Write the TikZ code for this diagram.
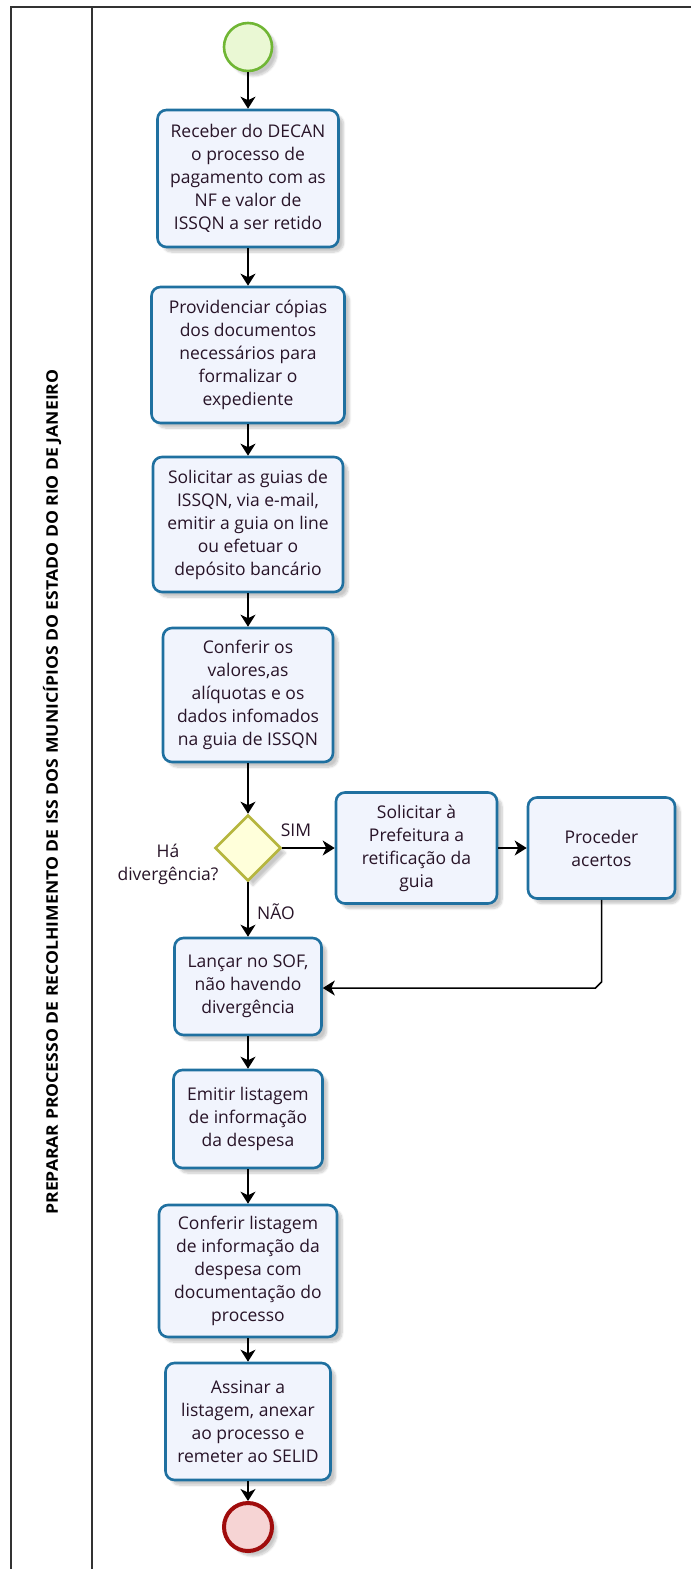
\documentclass[tikz,border=0pt]{standalone}
\usepackage{fontspec}
\setmainfont{Open Sans}
\usetikzlibrary{shapes.geometric,arrows.meta,shadows.blur}
\definecolor{taskline}{RGB}{31,112,160}
\definecolor{taskfill}{RGB}{241,244,253}
\definecolor{txt}{RGB}{40,20,40}
\definecolor{startline}{RGB}{112,182,52}
\definecolor{startfill}{RGB}{234,248,212}
\definecolor{endline}{RGB}{160,12,12}
\definecolor{endfill}{RGB}{246,212,212}
\definecolor{gwline}{RGB}{182,182,62}
\definecolor{gwfill}{RGB}{255,255,218}
\definecolor{frame}{RGB}{50,50,50}
\newcommand\tasktext{\fontsize{17.5bp}{23bp}\selectfont}
\newcommand\titletext{\fontsize{16bp}{18bp}\selectfont\bfseries}
\tikzset{
  shd/.style={blur shadow={shadow xshift=5bp,shadow yshift=-5bp,shadow blur steps=8,shadow opacity=22}},
  task/.style={rectangle,rounded corners=9bp,draw=taskline,line width=2.6bp,fill=taskfill,
    align=center,inner sep=0pt,font=\tasktext,text=txt,shd},
  startev/.style={circle,draw=startline,line width=2.6bp,fill=startfill,minimum size=48bp,inner sep=0pt,shd},
  endev/.style={circle,draw=endline,line width=4bp,fill=endfill,minimum size=48bp,inner sep=0pt,shd},
  gw/.style={diamond,aspect=1,draw=gwline,line width=2.6bp,fill=gwfill,minimum size=66bp,inner sep=0pt,shd},
  arr/.style={draw=black,line width=1.5bp,-{Stealth[length=12bp,width=15bp,inset=3.5bp]}},
  lbl/.style={font=\tasktext,text=txt,inner sep=0pt},
  frameline/.style={draw=frame,line width=1.5bp},
}
\begin{document}
\begin{tikzpicture}[x=1bp,y=-1bp]
\useasboundingbox (0,0) rectangle (691,1569);
% pool / lane frame
\draw[frameline] (11,1580) -- (11,7) -- (700,7);
\draw[frameline] (92,7) -- (92,1580);
\node[rotate=90,font=\titletext,inner sep=0pt] (title) at (52,792)
  {\resizebox{845bp}{\height}{PREPARAR PROCESSO DE RECOLHIMENTO DE ISS DOS MUNICÍPIOS DO ESTADO DO RIO DE JANEIRO}};
% events and tasks
\node[startev] (start) at (248,47) {};
\node[task,minimum width=181bp,minimum height=137bp] (t1) at (248,178.5)
  {Receber do DECAN\\o processo de\\pagamento com as\\NF e valor de\\ISSQN a ser retido};
\node[task,minimum width=193bp,minimum height=136bp] (t2) at (248,355)
  {Providenciar cópias\\dos documentos\\necessários para\\formalizar o\\expediente};
\node[task,minimum width=190bp,minimum height=135bp] (t3) at (248,524.5)
  {Solicitar as guias de\\ISSQN, via e-mail,\\emitir a guia on line\\ou efetuar o\\depósito bancário};
\node[task,minimum width=170bp,minimum height=134bp] (t4) at (248,695)
  {Conferir os\\valores,as\\alíquotas e os\\dados infomados\\na guia de ISSQN};
\node[gw] (gw) at (248,848) {};
\node[task,minimum width=161bp,minimum height=111bp] (t5) at (416.5,848)
  {Solicitar à\\Prefeitura a\\retificação da\\guia};
\node[task,minimum width=147bp,minimum height=101bp] (t6) at (601.5,848)
  {Proceder\\acertos};
\node[task,minimum width=147bp,minimum height=97bp] (t7) at (248,986.5)
  {Lançar no SOF,\\não havendo\\divergência};
\node[task,minimum width=149bp,minimum height=98bp] (t8) at (248,1119)
  {Emitir listagem\\de informação\\da despesa};
\node[task,minimum width=178bp,minimum height=132bp] (t9) at (248,1271)
  {Conferir listagem\\de informação da\\despesa com\\documentação do\\processo};
\node[task,minimum width=165bp,minimum height=117bp] (t10) at (248,1421.5)
  {Assinar a\\listagem, anexar\\ao processo e\\remeter ao SELID};
\node[endev] (end) at (248,1527) {};
% labels
\node[lbl] (sim) at (296,830) {SIM};
\node[lbl] (nao) at (276,912) {NÃO};
\node[lbl,align=center] (q) at (168,864) {Há\\divergência?};
% connectors
\draw[arr] (start) -- (t1);
\draw[arr] (t1) -- (t2);
\draw[arr] (t2) -- (t3);
\draw[arr] (t3) -- (t4);
\draw[arr] (t4) -- (gw);
\draw[arr] (gw.east) -- (t5.west);
\draw[arr] (t5) -- (t6);
\draw[arr] (gw.south) -- (t7.north);
\coordinate (r1) at (601.5,982);
\coordinate (r2) at (595.5,988);
\draw[arr] (t6.south) -- (r1) -- (r2) -- (r2 -| t7.east);
\draw[arr] (t7) -- (t8);
\draw[arr] (t8) -- (t9);
\draw[arr] (t9) -- (t10);
\draw[arr] (t10) -- (end);
\end{tikzpicture}
\end{document}
